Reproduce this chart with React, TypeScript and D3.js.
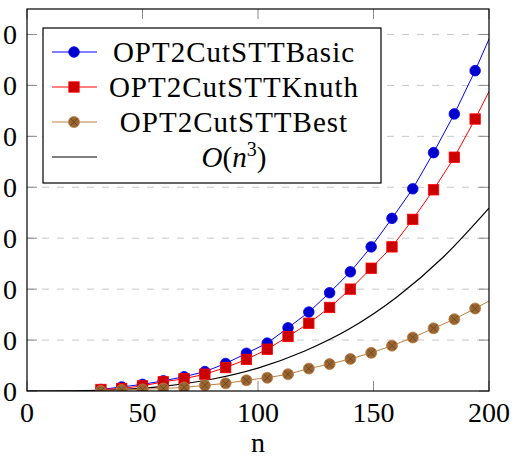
import * as d3 from "d3"

const sizes = [32, 41, 50, 59, 68, 77, 86, 95, 104, 113, 122, 131, 140, 149, 158, 167, 176, 185, 194, 203]
const basic = [0.03, 0.08, 0.13, 0.2, 0.28, 0.38, 0.54, 0.74, 0.94, 1.24, 1.55, 1.93, 2.34, 2.83, 3.39, 3.97, 4.68, 5.44, 6.29, 7.22]
const knuth = [0.03, 0.05, 0.1, 0.18, 0.24, 0.33, 0.46, 0.62, 0.82, 1.07, 1.33, 1.64, 2.0, 2.41, 2.83, 3.37, 3.95, 4.59, 5.34, 6.15]
const best = [0.0, 0.02, 0.03, 0.05, 0.07, 0.11, 0.15, 0.21, 0.26, 0.33, 0.44, 0.53, 0.63, 0.75, 0.89, 1.05, 1.23, 1.41, 1.62, 1.84]

// O(n^3) reference curve, sampled
const cubeN = [0, 20, 40, 60, 80, 100, 120, 140, 160, 180, 200]
const cubeV = [0, 0.004, 0.029, 0.097, 0.23, 0.45, 0.78, 1.23, 1.84, 2.62, 3.59]

const xTicks = [0, 50, 100, 150, 200]
const yTicks = [0, 1, 2, 3, 4, 5, 6, 7]
// only the last digit of each y label is visible in the original
const yTickLabels = ["0", "0", "0", "0", "0", "0", "0", "0"]
const legendLabels = ["OPT2CutSTTBasic", "OPT2CutSTTKnuth", "OPT2CutSTTBest"]

const W = 517
const H = 457
const P = { left: 27, right: 489, top: 9, bottom: 391 }
const FONT = "'Times New Roman', Times, 'Liberation Serif', Tinos, serif"

const BLUE = "#0000ff"
const RED = "#ff0000"
const BROWN = "#bf8040"

function Marker({ kind, x, y }: { kind: string; x: number; y: number }) {
  if (kind === "circle") return <circle cx={x} cy={y} r={5.3} fill="#0000cc" stroke={BLUE} strokeWidth={0.8} />
  if (kind === "square")
    return <rect x={x - 5.2} y={y - 5.2} width={10.4} height={10.4} fill="#cc0000" stroke={RED} strokeWidth={0.8} />
  const d = 3.6
  return (
    <g>
      <circle cx={x} cy={y} r={5.5} fill="#996633" stroke={BROWN} strokeWidth={0.8} />
      <path d={`M${x - d},${y - d}L${x + d},${y + d}M${x - d},${y + d}L${x + d},${y - d}`} stroke="#6b4520" strokeWidth={0.9} />
    </g>
  )
}

export default function App() {
  const x = d3.scaleLinear().domain([0, 200]).range([P.left, P.right])
  const y = d3.scaleLinear().domain([0, 7.5]).range([P.bottom, P.top])

  const line = d3
    .line<number>()
    .x((_, i) => x(sizes[i]))
    .y((d) => y(d))

  const cubeLine = d3
    .line<number>()
    .x((_, i) => x(cubeN[i]))
    .y((d) => y(d))
    .curve(d3.curveMonotoneX)

  const series = [
    { vals: basic, color: BLUE, kind: "circle" },
    { vals: knuth, color: RED, kind: "square" },
    { vals: best, color: BROWN, kind: "otimes" },
  ]

  const rowY = [52, 87, 122, 157]

  return (
    <svg width={W} height={H} style={{ position: "absolute", left: 0, top: 0, background: "#fff", fontFamily: FONT }}>
      <defs>
        <clipPath id="plot">
          <rect x={P.left} y={P.top} width={P.right - P.left} height={P.bottom - P.top} />
        </clipPath>
      </defs>

      {/* grid */}
      {yTicks.slice(1).map((t) => (
        <line key={t} x1={P.left} x2={P.right} y1={y(t)} y2={y(t)} stroke="#c8c8c8" strokeWidth={1} strokeDasharray="7,8" />
      ))}

      {/* ticks, inside on every side */}
      {xTicks.map((t) => (
        <g key={t} stroke="#8a8a8a" strokeWidth={1}>
          <line x1={x(t)} x2={x(t)} y1={P.bottom} y2={P.bottom - 10} />
          <line x1={x(t)} x2={x(t)} y1={P.top} y2={P.top + 10} />
        </g>
      ))}
      {yTicks.map((t) => (
        <g key={t} stroke="#8a8a8a" strokeWidth={1}>
          <line x1={P.left} x2={P.left + 10} y1={y(t)} y2={y(t)} />
          <line x1={P.right} x2={P.right - 10} y1={y(t)} y2={y(t)} />
        </g>
      ))}

      {/* data */}
      <g clipPath="url(#plot)">
        <path d={cubeLine(cubeV) ?? ""} fill="none" stroke="#000" strokeWidth={1.2} />
        {series.map((s) => (
          <g key={s.kind}>
            <path d={line(s.vals) ?? ""} fill="none" stroke={s.color} strokeWidth={1} />
            {s.vals.map((v, i) => (
              <Marker key={i} kind={s.kind} x={x(sizes[i])} y={y(v)} />
            ))}
          </g>
        ))}
      </g>

      {/* frame */}
      <rect x={P.left} y={P.top} width={P.right - P.left} height={P.bottom - P.top} fill="none" stroke="#000" strokeWidth={1.2} />

      {/* tick labels */}
      {xTicks.map((t) => (
        <text key={t} x={x(t)} y={422} textAnchor="middle" fontSize={28}>
          {t}
        </text>
      ))}
      {yTicks.map((t, i) => (
        <text key={t} x={17} y={y(t) + 9.5} textAnchor="end" fontSize={28}>
          {yTickLabels[i]}
        </text>
      ))}
      <text x={x(100)} y={452} textAnchor="middle" fontSize={28}>
        n
      </text>

      {/* legend */}
      <rect x={43} y={28} width={338} height={155} fill="#fff" stroke="#000" strokeWidth={1.2} />
      {series.map((s, i) => (
        <g key={s.kind}>
          <line x1={52} x2={97} y1={rowY[i]} y2={rowY[i]} stroke={s.color} strokeWidth={1} />
          <Marker kind={s.kind} x={74} y={rowY[i]} />
          <text x={234} y={rowY[i] + 9.5} textAnchor="middle" fontSize={29} letterSpacing={1}>
            {legendLabels[i]}
          </text>
        </g>
      ))}
      <line x1={52} x2={97} y1={rowY[3]} y2={rowY[3]} stroke="#000" strokeWidth={1.2} />
      <text x={234} y={rowY[3] + 9.5} textAnchor="middle" fontSize={29}>
        <tspan fontStyle="italic">O</tspan>
        <tspan>(</tspan>
        <tspan fontStyle="italic">n</tspan>
        <tspan fontSize={20} dy={-11}>3</tspan>
        <tspan dy={11}>)</tspan>
      </text>
    </svg>
  )
}
